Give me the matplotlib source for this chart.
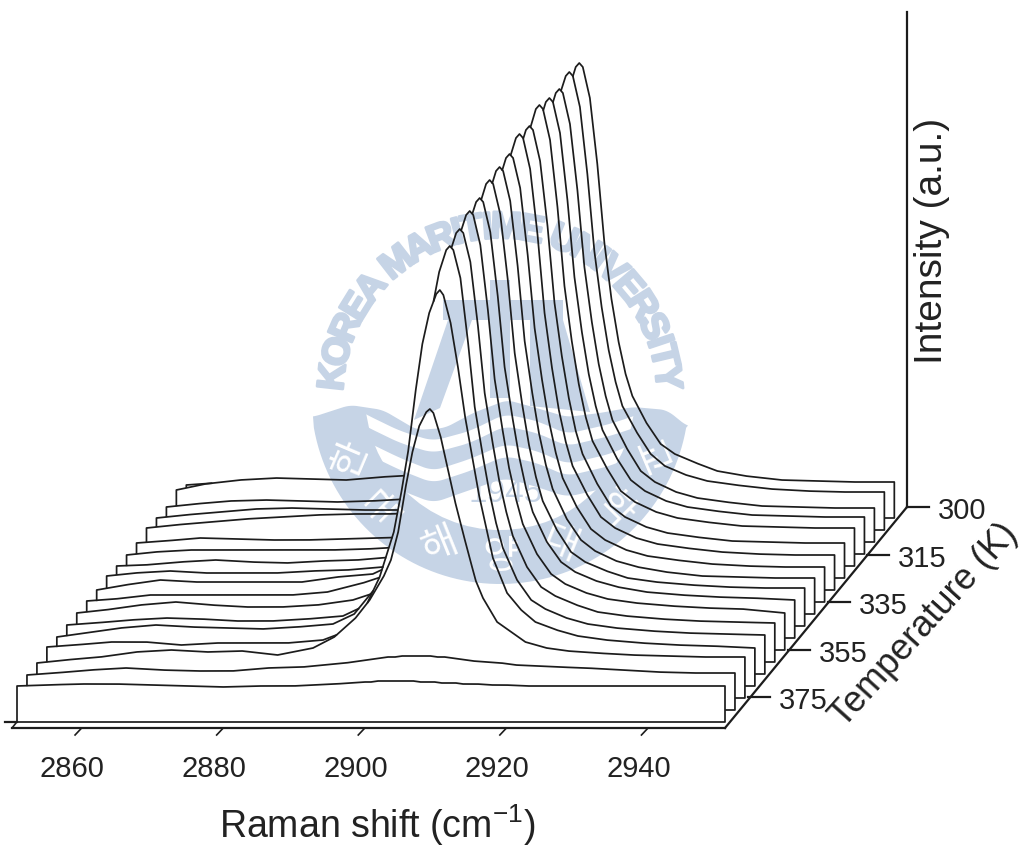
import numpy as np
import matplotlib
matplotlib.use('Agg')
import matplotlib.pyplot as plt
import matplotlib.patheffects as pe
from matplotlib.path import Path
from matplotlib.patches import Circle, Polygon

plt.rcParams['font.family'] = ['Liberation Sans', 'DejaVu Sans']
plt.rcParams['mathtext.fontset'] = 'custom'
plt.rcParams['mathtext.rm'] = 'Liberation Sans'

# x values shared by all spectra (cm-1)
raman_shift = [2851, 2855, 2860, 2865, 2870, 2875, 2880, 2885, 2890, 2893, 2896, 2898,
               2900, 2901, 2902, 2903, 2904, 2905, 2906, 2906.5, 2907, 2908, 2909, 2910,
               2911, 2912, 2913, 2914, 2916, 2918, 2920, 2923, 2926, 2930, 2935, 2940,
               2945, 2951]

# spectra, front (hot) to back (cold)
s00 = [36, 37, 38, 38, 37, 36, 35, 36, 36, 37, 38, 39, 40, 40, 41, 41, 41, 41, 41, 41, 41, 40, 40, 40, 39, 39, 39, 38, 38, 37, 37, 36, 36, 36, 36, 36, 36, 36]
s01 = [35, 37, 40, 42, 40, 39, 39, 42, 43, 45, 47, 49, 51, 52, 53, 53, 54, 54, 54, 54, 54, 54, 53, 53, 52, 51, 50, 49, 48, 47, 45, 44, 43, 42, 40, 38, 37, 37]
s02 = [35, 38, 41, 46, 48, 46, 47, 43, 50, 61, 80, 98, 122, 138, 165, 208, 245, 272, 286, 289, 285, 262, 230, 198, 170, 143, 117, 100, 76, 66, 56, 50, 47, 45, 43, 42, 41, 41]
s03 = [39, 41, 44, 44, 41, 43, 43, 43, 46, 54, 79, 109, 154, 191, 233, 291, 341, 373, 392, 396, 391, 364, 322, 272, 232, 192, 160, 128, 93, 76, 64, 56, 50, 46, 43, 41, 40, 38]
s04 = [37, 41, 46, 49, 47, 46, 45, 47, 50, 60, 86, 115, 162, 205, 256, 312, 365, 402, 424, 428, 424, 396, 337, 268, 225, 185, 152, 126, 94, 74, 65, 56, 50, 46, 43, 41, 40, 39]
s05 = [37, 39, 42, 44, 43, 41, 41, 43, 46, 56, 82, 112, 164, 208, 259, 316, 369, 407, 429, 433, 429, 400, 341, 270, 225, 184, 152, 126, 95, 75, 66, 57, 50, 46, 43, 41, 40, 39]
s06 = [37, 40, 45, 48, 45, 43, 43, 45, 50, 57, 84, 114, 166, 210, 262, 320, 374, 413, 435, 439, 435, 405, 345, 272, 226, 184, 152, 126, 96, 76, 66, 57, 51, 47, 44, 42, 41, 37]
s07 = [37, 39, 43, 43, 43, 43, 43, 46, 55, 62, 86, 116, 166, 211, 263, 321, 375, 414, 436, 440, 436, 406, 346, 272, 226, 184, 151, 126, 96, 76, 66, 57, 51, 46, 43, 41, 40, 38]
s08 = [36, 41, 46, 44, 44, 44, 44, 49, 52, 62, 88, 118, 169, 214, 267, 326, 380, 419, 442, 446, 442, 412, 351, 275, 226, 183, 150, 125, 96, 74, 64, 55, 48, 44, 41, 39, 38, 38]
s09 = [38, 41, 43, 41, 41, 41, 43, 44, 47, 60, 88, 118, 169, 214, 267, 326, 381, 420, 443, 447, 443, 413, 352, 275, 226, 183, 150, 125, 95, 74, 63, 53, 47, 42, 38, 37, 36, 36]
s10 = [36, 37, 40, 42, 40, 39, 41, 42, 45, 58, 88, 118, 170, 215, 268, 327, 382, 421, 444, 448, 444, 414, 352, 276, 226, 183, 150, 124, 95, 73, 62, 52, 46, 42, 38, 36, 35, 35]
s11 = [35, 38, 40, 40, 40, 40, 40, 41, 43, 58, 90, 120, 172, 219, 273, 333, 389, 429, 452, 456, 452, 421, 359, 279, 226, 182, 149, 124, 96, 73, 62, 52, 46, 42, 38, 36, 35, 35]
s12 = [35, 37, 40, 39, 38, 38, 39, 40, 41, 58, 90, 120, 171, 217, 270, 330, 386, 425, 448, 452, 448, 417, 356, 277, 225, 182, 148, 124, 95, 72, 61, 51, 45, 41, 37, 36, 35, 35]
s13 = [38, 41, 44, 47, 49, 51, 52, 52, 53, 66, 94, 125, 175, 222, 276, 337, 393, 433, 457, 461, 457, 426, 363, 282, 228, 184, 150, 125, 98, 75, 64, 54, 48, 44, 40, 39, 38, 38]
s14 = [36, 39, 42, 45, 46, 45, 44, 44, 47, 62, 92, 122, 172, 219, 273, 333, 389, 429, 452, 456, 452, 421, 358, 279, 226, 182, 149, 124, 96, 74, 63, 53, 47, 43, 39, 38, 37, 37]
s15 = [35, 38, 41, 42, 41, 40, 41, 43, 48, 62, 90, 120, 170, 216, 270, 330, 386, 426, 449, 453, 449, 418, 356, 277, 224, 180, 147, 122, 94, 71, 60, 50, 44, 40, 36, 35, 34, 34]
s16 = [40, 46, 50, 52, 51, 50, 53, 55, 60, 70, 95, 125, 175, 222, 276, 336, 392, 432, 454, 458, 454, 423, 360, 281, 226, 182, 149, 124, 98, 76, 64, 55, 49, 45, 41, 39, 38, 38]
s17 = [33, 35, 36, 36, 35, 35, 36, 38, 50, 65, 92, 122, 172, 218, 272, 332, 388, 428, 451, 455, 451, 420, 358, 278, 221, 178, 145, 122, 95, 74, 64, 55, 47, 42, 38, 37, 36, 36]
spectra = [s00, s01, s02, s03, s04, s05, s06, s07, s08, s09, s10, s11, s12, s13, s14, s15, s16, s17]

raman_ticks = [2860, 2880, 2900, 2920, 2940]
temp_ticks = ['300', '315', '335', '355', '375']

# relative letter widths for the seal lettering
seal_text = 'KOREA MARITIME UNIVERSITY'
seal_widths = [.72, .78, .72, .67, .72, .28, .83, .72, .72, .28, .61, .28, .83, .67, .28,
               .72, .72, .28, .67, .67, .72, .67, .28, .61, .67]

PX_PER_CM = 7.08
STEP_X = 9.96 / PX_PER_CM  # oblique shift per spectrum, in cm-1
STEP_Y = 12.0              # same in intensity units
LINE = '#1c1c1c'
BLUE = '#c6d4e6'
W, H = 1028, 849

fig = plt.figure(figsize=(W / 100, H / 100), dpi=100, facecolor='white')

# pixel axes for the logo and the frame, data axes for the spectra
bg = fig.add_axes([0, 0, 1, 1], zorder=0)
bg.set_xlim(0, W)
bg.set_ylim(H, 0)
bg.axis('off')

ax = fig.add_axes([0, 0, 1, 1], zorder=1)
ax.patch.set_alpha(0)
ax.set_xlim(2851 - 17 / PX_PER_CM, 2851 + (W - 17) / PX_PER_CM)
ax.set_ylim(722 - H, 722)
ax.axis('off')


def soft(xp, yp, win=21):
    # rounded wave edge for the seal
    x = np.arange(xp[0], xp[-1] + 1)
    y = np.interp(x, xp, yp)
    pad = win // 2
    y2 = np.convolve(np.r_[np.full(pad, y[0]), y, np.full(pad, y[-1])], np.ones(win) / win, mode='valid')
    return x, y2


# watermark seal
cx, cy, R = 500, 395, 189
ang = np.radians(np.linspace(10, 170, 80))
top_x = [313, 350, 383, 417, 445, 473, 507, 533, 567, 600, 633, 667, 688]
top_y = [417, 405, 410, 430, 428, 413, 400, 407, 417, 413, 407, 410, 427]
tx, ty = soft(top_x, top_y, 15)
disc = list(zip(tx, ty)) + list(zip(cx + R * np.cos(ang), cy + R * np.sin(ang)))
bg.add_patch(Polygon(disc, closed=True, fc=BLUE, ec='none'))

inner = Circle((cx, cy), 135, transform=bg.transData)
wave_x = [340, 365, 400, 433, 470, 505, 537, 567, 610, 640, 670]
wave_1 = [405, 420, 437, 447, 437, 420, 427, 440, 430, 420, 410]
wave_2 = [432, 447, 464, 477, 465, 450, 457, 470, 460, 447, 437]
wave_3 = [462, 474, 490, 503, 490, 478, 487, 497, 487, 474, 464]
for wave in (wave_1, wave_2):
    wx, wy = soft(wave_x, wave)
    band = list(zip(wx, wy - 6)) + list(zip(wx[::-1], wy[::-1] + 6))
    p = bg.add_patch(Polygon(band, closed=True, fc='white', ec='none'))
    p.set_clip_path(inner)
wx, wy = soft(wave_x, wave_3)
low = list(zip(wx, wy)) + [(670, 560), (340, 560)]
p = bg.add_patch(Polygon(low, closed=True, fc='white', ec='none'))
p.set_clip_path(inner)

# building in the middle of the seal
bg.add_patch(Polygon([(443, 300), (563, 300), (563, 320), (443, 320)], fc=BLUE, ec='none'))
bg.add_patch(Polygon([(448, 320), (472, 320), (440, 408), (414, 420)], fc=BLUE, ec='none'))
bg.add_patch(Polygon([(490, 280), (510, 280), (510, 398), (490, 398)], fc=BLUE, ec='none'))
bg.add_patch(Polygon([(530, 320), (563, 320), (590, 412), (530, 406)], fc=BLUE, ec='none'))

edges = np.cumsum(seal_widths)
seal_angles = -88 + 176 * (edges - np.array(seal_widths) / 2) / edges[-1]
for ch, a in zip(seal_text, seal_angles):
    r = 167
    bg.text(cx + r * np.sin(np.radians(a)), cy - r * np.cos(np.radians(a)), ch, color=BLUE,
            fontsize=27, fontweight='bold', rotation=-a, rotation_mode='anchor',
            ha='center', va='center', path_effects=[pe.withStroke(linewidth=2, foreground=BLUE)])

for ch, a in zip('한국해양대학교', [-67, -45, -22, 0, 22, 45, 67]):
    r = 162
    bg.text(cx + r * np.sin(np.radians(a)), cy + r * np.cos(np.radians(a)), ch, color='white',
            fontsize=28, rotation=-a, rotation_mode='anchor', ha='center', va='center',
            family=['Noto Sans CJK KR', 'DejaVu Sans'])
bg.text(506, 493, '1945', color=BLUE, fontsize=24, ha='center', va='center')


def outline(values, k):
    x = np.array(raman_shift) + k * STEP_X
    y = np.array(values, dtype=float) + k * STEP_Y
    base = k * STEP_Y
    xs = np.r_[x[0], x, x[-1], x[0]]
    ys = np.r_[base, y, base, base]
    return xs, ys


def densify(xs, ys):
    out_x, out_y = [], []
    for i in range(len(xs) - 1):
        n = max(2, int(np.hypot((xs[i + 1] - xs[i]) * PX_PER_CM, ys[i + 1] - ys[i])))
        out_x.append(np.linspace(xs[i], xs[i + 1], n))
        out_y.append(np.linspace(ys[i], ys[i + 1], n))
    return np.concatenate(out_x), np.concatenate(out_y)


# hidden line removal: the boxes stay see-through so the seal shows behind the lines
front = []
for k, values in enumerate(spectra):
    xs, ys = outline(values, k)
    dx, dy = densify(xs, ys)
    hidden = np.zeros(len(dx), dtype=bool)
    pts = np.column_stack([dx, dy])
    for box in front:
        hidden |= box.contains_points(pts)
    dy = dy.copy()
    dy[hidden] = np.nan
    ax.plot(dx, dy, color=LINE, lw=1.25, solid_joinstyle='round')
    front.append(Path(np.column_stack([xs, ys])))

# frame
frame = dict(color=LINE, lw=1.6)
bg.plot([5, 17], [722, 722], **frame)
bg.plot([12, 725], [728, 728], **frame)
bg.plot([12, 16], [728, 723], color=LINE, lw=1.2)
bg.plot([725, 907], [728, 507], **frame)
bg.plot([907, 907], [507, 12], **frame)

for t in raman_ticks:
    ax.plot([t, t - 0.8], [-7, -13], color=LINE, lw=1.2)
    ax.text(t - 1.2, -47, str(t), fontsize=21, ha='center', va='center', color='#222222')

for i, lab in enumerate(temp_ticks):
    x0 = 907 - 39.75 * i
    y0 = 507 + 47.6 * i
    bg.plot([x0, x0 + 22], [y0, y0], **frame)
    bg.text(x0 + 31, y0 + 4, lab, fontsize=21, ha='left', va='center', color='#222222')

bg.text(377, 825, r'Raman shift (cm$^{\mathregular{-1}}$)', fontsize=27, ha='center', va='center', color='#222222')
bg.text(932, 241, 'Intensity (a.u.)', fontsize=28, rotation=90, ha='center', va='center', color='#222222')
bg.text(924, 625, 'Temperature (K)', fontsize=26, rotation=48, ha='center', va='center',
        rotation_mode='anchor', color='#222222')

fig.savefig('out.png', dpi=100, facecolor='white')
